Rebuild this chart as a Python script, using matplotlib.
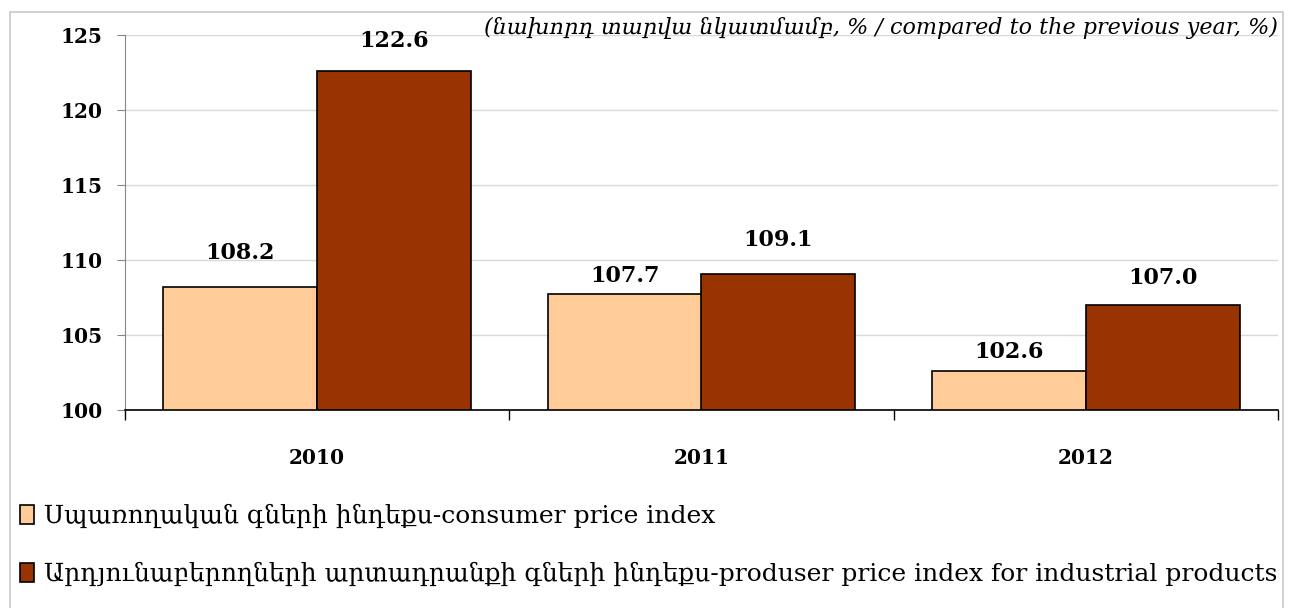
import matplotlib.pyplot as plt
import numpy as np
from matplotlib.patches import Rectangle

years = ['2010', '2011', '2012']
cpi = [108.2, 107.7, 102.6]
ppi = [122.6, 109.1, 107.0]
cpi_label = 'Սպառողական գների ինդեքս-consumer price index'
ppi_label = 'Արդյունաբերողների արտադրանքի գների ինդեքս-produser price index for industrial products'
note = '(նախորդ տարվա նկատմամբ, % / compared to the previous year, %)'

# gap (px) between label baseline and bar top, as placed in the original
cpi_gap = [28, 13, 13]
ppi_gap = [24, 28, 21]

plt.rcParams['font.family'] = ['DejaVu Serif', 'DejaVu Sans']

fig = plt.figure(figsize=(12.93, 6.08), dpi=100)
ax = fig.add_axes([125/1293, 1-410/608, (1278-125)/1293, 375/608])

x = np.arange(len(years))
w = 0.4
b1 = ax.bar(x - w/2, np.array(cpi) - 100, w, bottom=100, color='#FFCC99',
            edgecolor='black', linewidth=1.2, label=cpi_label, zorder=3)
b2 = ax.bar(x + w/2, np.array(ppi) - 100, w, bottom=100, color='#993300',
            edgecolor='black', linewidth=1.2, label=ppi_label, zorder=3)

for bars, vals, gaps in ((b1, cpi, cpi_gap), (b2, ppi, ppi_gap)):
    for r, v, g in zip(bars, vals, gaps):
        ax.annotate('%.1f' % v, (r.get_x() + r.get_width()/2, v),
                    xytext=(0, g * 0.72), textcoords='offset points',
                    ha='center', va='baseline', fontsize=16, fontweight='bold')

ax.set_xlim(-0.5, 2.5)
ax.set_ylim(100, 125)
ax.set_yticks([100, 105, 110, 115, 120, 125])
ax.grid(axis='y', color='#D9D9D9', linewidth=1, zorder=0)
ax.set_xticks(x)
ax.set_xticklabels(years, fontsize=14.5, fontweight='bold')
ax.set_xticks([-0.5, 0.5, 1.5, 2.5], minor=True)
ax.tick_params(axis='x', which='major', length=0, pad=27)
ax.tick_params(axis='x', which='minor', length=7, color='black', width=1)
ax.tick_params(axis='y', length=6, color='#868686', labelsize=14.5, pad=10)
for lab in ax.get_yticklabels():
    lab.set_fontweight('bold')

for s in ('top', 'right'):
    ax.spines[s].set_visible(False)
ax.spines['left'].set_color('#868686')
ax.spines['bottom'].set_color('black')
ax.spines['bottom'].set_linewidth(1.2)

fig.text(1278/1293, 1-28/608, note, ha='right', va='center', fontsize=16,
         style='italic')

fig.legend(loc='upper left', bbox_to_anchor=(10/1293, 1-494/608), frameon=False,
           fontsize=18, handlelength=0.55, handleheight=0.75, handletextpad=0.4,
           labelspacing=1.35, borderaxespad=0)

fig.patches.append(Rectangle((10/1293, -0.05), 1273/1293, 1.05 - 12/608,
                             transform=fig.transFigure, fill=False,
                             edgecolor='#C8C8C8', linewidth=1.2))

fig.savefig('out.png', dpi=100)
